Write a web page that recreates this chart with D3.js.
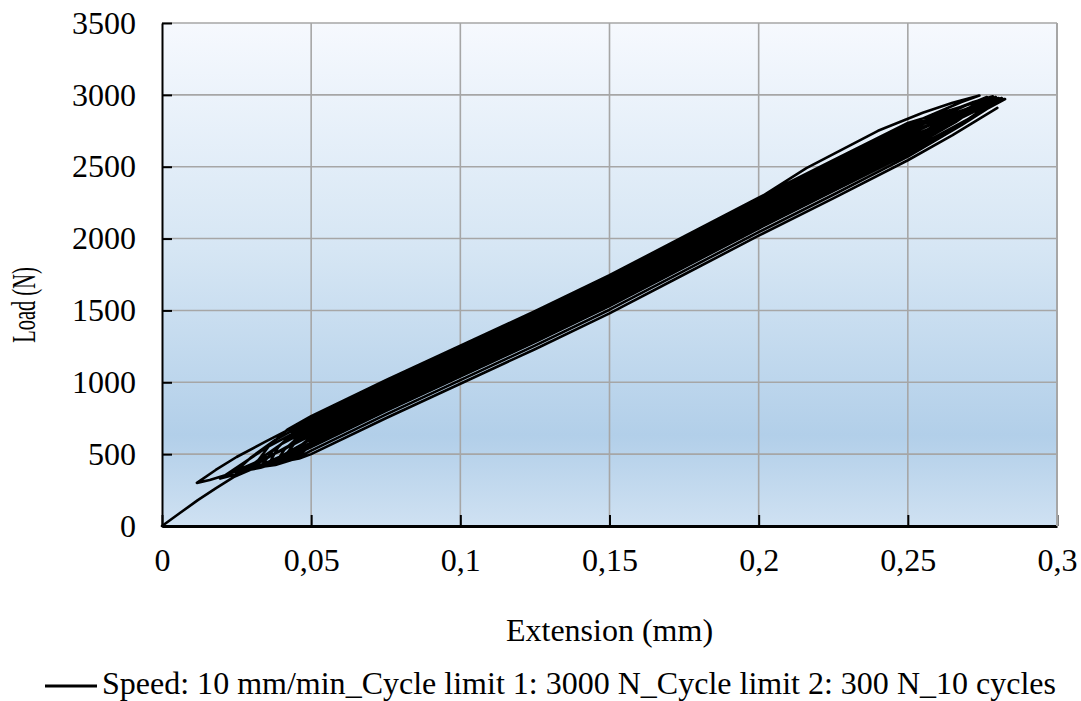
<!DOCTYPE html>
<html>
<head>
<meta charset="utf-8">
<script src="https://cdn.jsdelivr.net/npm/d3@7"></script>
<style>
  html, body { margin: 0; padding: 0; background: #ffffff; }
  svg { display: block; }
  text { font-family: "Liberation Serif", "Times New Roman", serif; fill: #000; }
</style>
</head>
<body>
<svg id="chart" width="1081" height="701"></svg>
<script>
// Cyclic tensile test: extension (mm) vs load (N), 10 load/unload cycles
// between 300 N and 3000 N at 10 mm/min.

const xTicks = [0, 0.05, 0.1, 0.15, 0.2, 0.25, 0.3];
const xTickLabels = ["0", "0,05", "0,1", "0,15", "0,2", "0,25", "0,3"];
const yTicks = [0, 500, 1000, 1500, 2000, 2500, 3000, 3500];
const yTickLabels = ["0", "500", "1000", "1500", "2000", "2500", "3000", "3500"];
const xTitle = "Extension (mm)";
const yTitle = "Load (N)";
const seriesName = "Speed: 10 mm/min_Cycle limit 1: 3000 N_Cycle limit 2: 300 N_10 cycles";

// Recorded trace as [extension, load] pairs, in test order.
const firstLoading = [
  [0,0],[0.006,90],[0.012,180],[0.018,262],[0.024,340],[0.03,395],[0.04,470],[0.05,565],
  [0.075,815],[0.1,1065],[0.125,1330],[0.15,1615],[0.175,1930],[0.2,2280],[0.216,2490],
  [0.24,2750],[0.255,2875],[0.265,2945],[0.274,2995]
];
const cycle1Unload = [
  [0.268,2950],[0.25,2790],[0.225,2530],[0.2,2270],[0.175,2000],[0.15,1730],[0.125,1480],
  [0.1,1240],[0.075,1000],[0.05,750],[0.035,590],[0.025,480],[0.018,390],[0.0117,300]
];
const cycle2Load = [
  [0.016,320],[0.022,358],[0.03,430],[0.04,525],[0.05,630],[0.075,880],[0.1,1120],[0.125,1360],
  [0.15,1610],[0.175,1880],[0.2,2150],[0.225,2410],[0.25,2670],[0.265,2840],[0.2765,2985]
];
const cycle2Unload = [
  [0.27,2930],[0.25,2750],[0.225,2490],[0.2,2230],[0.175,1960],[0.15,1690],[0.125,1440],
  [0.1,1200],[0.075,960],[0.05,710],[0.035,545],[0.026,420],[0.0195,330]
];
const cycle3Load = [
  [0.025,360],[0.035,440],[0.05,580],[0.075,830],[0.1,1070],[0.125,1310],[0.15,1560],
  [0.175,1830],[0.2,2100],[0.225,2360],[0.25,2620],[0.266,2810],[0.2785,2990]
];
const cycle3Unload = [
  [0.272,2950],[0.25,2775],[0.225,2515],[0.2,2255],[0.175,1985],[0.15,1715],[0.125,1465],
  [0.1,1225],[0.075,985],[0.05,735],[0.038,600],[0.03,480],[0.0245,376]
];
const cycle4Load = [
  [0.03,410],[0.04,530],[0.05,645],[0.075,895],[0.1,1135],[0.125,1375],[0.15,1625],
  [0.175,1895],[0.2,2165],[0.225,2425],[0.25,2685],[0.266,2865],[0.2795,2985]
];
const cycle4Unload = [
  [0.272,2925],[0.25,2720],[0.225,2460],[0.2,2200],[0.175,1930],[0.15,1660],[0.125,1410],
  [0.1,1170],[0.075,930],[0.05,680],[0.04,570],[0.033,470],[0.0275,385]
];
const cycle5Load = [
  [0.033,405],[0.04,450],[0.05,550],[0.075,800],[0.1,1040],[0.125,1280],[0.15,1530],
  [0.175,1800],[0.2,2070],[0.225,2330],[0.25,2590],[0.268,2800],[0.2805,2978]
];
const cycle5Unload = [
  [0.274,2955],[0.25,2805],[0.225,2545],[0.2,2285],[0.175,2015],[0.15,1745],[0.125,1495],
  [0.1,1255],[0.075,1015],[0.05,765],[0.042,670],[0.036,560],[0.03,395]
];
const cycle6Load = [
  [0.035,420],[0.042,510],[0.05,605],[0.075,855],[0.1,1095],[0.125,1335],[0.15,1585],
  [0.175,1855],[0.2,2125],[0.225,2385],[0.25,2645],[0.268,2850],[0.2812,2975]
];
const cycle6Unload = [
  [0.274,2930],[0.25,2735],[0.225,2475],[0.2,2215],[0.175,1945],[0.15,1675],[0.125,1425],
  [0.1,1185],[0.075,945],[0.05,695],[0.042,605],[0.037,520],[0.033,410]
];
const cycle7Load = [
  [0.038,425],[0.045,470],[0.05,525],[0.075,775],[0.1,1015],[0.125,1255],[0.15,1505],
  [0.175,1775],[0.2,2045],[0.225,2305],[0.25,2570],[0.268,2790],[0.2818,2972]
];
const cycle7Unload = [
  [0.275,2940],[0.25,2765],[0.225,2505],[0.2,2245],[0.175,1975],[0.15,1705],[0.125,1455],
  [0.1,1215],[0.075,975],[0.05,725],[0.044,650],[0.039,550],[0.0355,420]
];
const cycle8Load = [
  [0.04,445],[0.045,535],[0.05,620],[0.075,870],[0.1,1110],[0.125,1350],[0.15,1600],
  [0.175,1870],[0.2,2140],[0.225,2400],[0.25,2660],[0.268,2865],[0.2822,2970]
];
const cycle8Unload = [
  [0.275,2910],[0.25,2705],[0.225,2445],[0.2,2185],[0.175,1915],[0.15,1645],[0.125,1395],
  [0.1,1155],[0.075,915],[0.05,665],[0.045,605],[0.041,530],[0.038,435]
];
const cycle9Load = [
  [0.042,455],[0.047,510],[0.05,565],[0.075,815],[0.1,1055],[0.125,1295],[0.15,1545],
  [0.175,1815],[0.2,2085],[0.225,2345],[0.25,2605],[0.27,2830],[0.2826,2971]
];
const cycle9Unload = [
  [0.276,2930],[0.25,2695],[0.225,2435],[0.2,2175],[0.175,1905],[0.15,1635],[0.125,1385],
  [0.1,1145],[0.075,905],[0.05,655],[0.045,590],[0.0396,445]
];
const cycle10Load = [
  [0.044,465],[0.048,540],[0.05,590],[0.075,840],[0.1,1080],[0.125,1320],[0.15,1570],
  [0.175,1840],[0.2,2110],[0.225,2370],[0.25,2630],[0.268,2840],[0.2815,2978]
];
const cycle10Unload = [
  [0.275,2940],[0.25,2760],[0.225,2500],[0.2,2240],[0.175,1970],[0.15,1700],[0.125,1450],
  [0.1,1210],[0.075,970],[0.05,720],[0.046,665],[0.041,450]
];
const finalLoading = [
  [0.046,470],[0.05,500],[0.075,750],[0.1,990],[0.125,1230],[0.15,1480],[0.175,1750],
  [0.2,2020],[0.225,2280],[0.25,2545],[0.265,2720],[0.28,2909]
];

const trace = [].concat(
  firstLoading, cycle1Unload,
  cycle2Load, cycle2Unload, cycle3Load, cycle3Unload,
  cycle4Load, cycle4Unload, cycle5Load, cycle5Unload,
  cycle6Load, cycle6Unload, cycle7Load, cycle7Unload,
  cycle8Load, cycle8Unload, cycle9Load, cycle9Unload,
  cycle10Load, cycle10Unload, finalLoading
);

const FONT = "'Liberation Serif', 'Times New Roman', serif";
const svg = d3.select("#chart");
const plot = { left: 162, right: 1057, top: 23, bottom: 526 };

const x = d3.scaleLinear().domain([0, 0.3]).range([plot.left, plot.right]);
const y = d3.scaleLinear().domain([0, 3500]).range([plot.bottom, plot.top]);

// Plot-area background: vertical gradient, pale at the top, deepest blue low down.
const defs = svg.append("defs");
const grad = defs.append("linearGradient")
  .attr("id", "plotBg").attr("x1", 0).attr("y1", 0).attr("x2", 0).attr("y2", 1);
[[0, "#f6f9fe"], [0.45, "#d6e6f4"], [0.82, "#b2cfe9"], [1, "#cfe1f2"]]
  .forEach(([o, c]) => grad.append("stop").attr("offset", o).attr("stop-color", c));

svg.append("rect")
  .attr("x", plot.left).attr("y", plot.top)
  .attr("width", plot.right - plot.left).attr("height", plot.bottom - plot.top)
  .attr("fill", "url(#plotBg)");

// Gridlines
const grid = svg.append("g").attr("stroke", "#a6a6a6").attr("stroke-width", 1.6);
grid.selectAll("line.h").data(yTicks.slice(1)).join("line")
  .attr("x1", plot.left).attr("x2", plot.right)
  .attr("y1", d => y(d)).attr("y2", d => y(d));
grid.selectAll("line.v").data(xTicks.slice(1)).join("line")
  .attr("y1", plot.top).attr("y2", plot.bottom)
  .attr("x1", d => x(d)).attr("x2", d => x(d));

// Data trace
const line = d3.line().x(d => x(d[0])).y(d => y(d[1]));
svg.append("path")
  .datum(trace)
  .attr("d", line)
  .attr("fill", "none")
  .attr("stroke", "#000")
  .attr("stroke-width", 2.6)
  .attr("stroke-linejoin", "round")
  .attr("stroke-linecap", "round");

// Axes: ticks point into the plot area
const xAxis = d3.axisBottom(x).tickValues(xTicks).tickSizeInner(-11).tickSizeOuter(0)
  .tickFormat((d, i) => xTickLabels[i]).tickPadding(22);
const yAxis = d3.axisLeft(y).tickValues(yTicks).tickSizeInner(-10).tickSizeOuter(0)
  .tickFormat((d, i) => yTickLabels[i]).tickPadding(26);

const gx = svg.append("g").attr("transform", `translate(0,${plot.bottom})`).call(xAxis);
const gy = svg.append("g").attr("transform", `translate(${plot.left},0)`).call(yAxis);

gx.select(".domain").attr("stroke", "#000").attr("stroke-width", 3);
gy.select(".domain").attr("stroke", "#000").attr("stroke-width", 2);
gx.selectAll(".tick line").attr("stroke", "#000").attr("stroke-width", 2);
gy.selectAll(".tick line").attr("stroke", "#000").attr("stroke-width", 2);
gx.selectAll(".tick text").style("font-family", FONT).style("font-size", "32px").attr("fill", "#000");
gy.selectAll(".tick text").style("font-family", FONT).style("font-size", "32px").attr("fill", "#000");

// Right border
svg.append("line")
  .attr("x1", plot.right).attr("x2", plot.right)
  .attr("y1", plot.top).attr("y2", plot.bottom)
  .attr("stroke", "#a6a6a6").attr("stroke-width", 2);

// Axis titles
svg.append("text")
  .attr("x", (plot.left + plot.right) / 2).attr("y", 641)
  .attr("text-anchor", "middle")
  .style("font-family", FONT).style("font-size", "32px")
  .text(xTitle);

// The y title is set condensed along its length
svg.append("text")
  .attr("transform", "translate(35,305) rotate(-90) scale(0.62,1)")
  .attr("text-anchor", "middle")
  .style("font-family", FONT).style("font-size", "33px")
  .text(yTitle);

// Legend
const legend = svg.append("g");
legend.append("line")
  .attr("x1", 45).attr("x2", 97).attr("y1", 686).attr("y2", 686)
  .attr("stroke", "#000").attr("stroke-width", 3);
legend.append("text")
  .attr("x", 102).attr("y", 694)
  .attr("textLength", 954).attr("lengthAdjust", "spacingAndGlyphs")
  .style("font-family", FONT).style("font-size", "31px")
  .text(seriesName);
</script>
</body>
</html>
